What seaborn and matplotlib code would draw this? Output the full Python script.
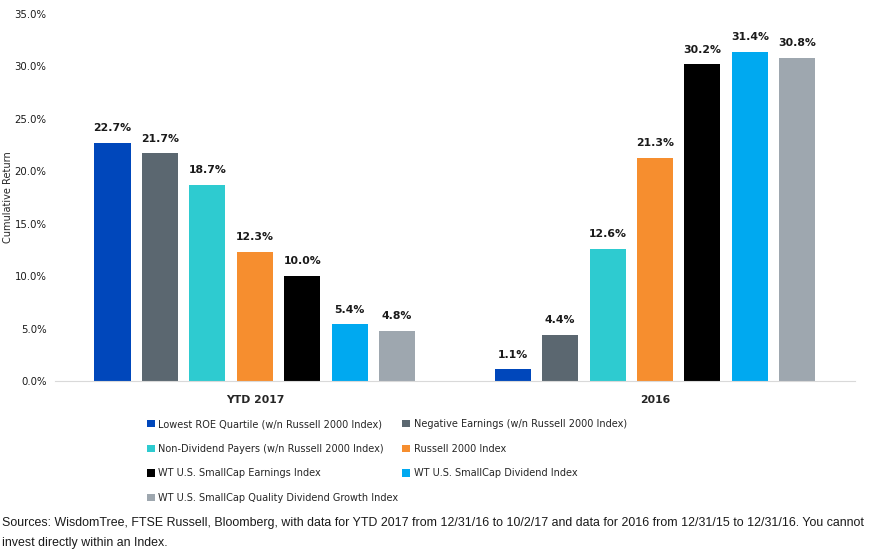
import pandas as pd
import matplotlib
matplotlib.use("Agg")
import matplotlib.pyplot as plt
import seaborn as sns
from matplotlib.ticker import FuncFormatter

# Dados do gráfico
periodos = ["YTD 2017", "2016"]
series = [
    "Lowest ROE Quartile (w/n Russell 2000 Index)",
    "Negative Earnings (w/n Russell 2000 Index)",
    "Non-Dividend Payers (w/n Russell 2000 Index)",
    "Russell 2000 Index",
    "WT U.S. SmallCap Earnings Index",
    "WT U.S. SmallCap Dividend Index",
    "WT U.S. SmallCap Quality Dividend Growth Index",
]
ytd_2017 = [22.7, 21.7, 18.7, 12.3, 10.0, 5.4, 4.8]
ano_2016 = [1.1, 4.4, 12.6, 21.3, 30.2, 31.4, 30.8]
cores = ["#0047BB", "#5B6770", "#2ECBD0", "#F68E2F", "#000000", "#00A9F0", "#9EA7AF"]

fonte = ("Sources: WisdomTree, FTSE Russell, Bloomberg, with data for YTD 2017 from 12/31/16 to 10/2/17 "
         "and data for 2016 from 12/31/15 to 12/31/16. You cannot\ninvest directly within an Index.")


def montar_df():
    linhas = []
    for s, a, b in zip(series, ytd_2017, ano_2016):
        linhas.append({"Periodo": periodos[0], "Serie": s, "Retorno": a})
        linhas.append({"Periodo": periodos[1], "Serie": s, "Retorno": b})
    return pd.DataFrame(linhas)


def main():
    sns.set_style("white")
    plt.rcParams["font.family"] = ["DejaVu Sans"]
    df = montar_df()

    fig = plt.figure(figsize=(8.69, 5.55), dpi=100)
    ax = fig.add_axes([0.063, 0.3135, 0.921, 0.6615])
    sns.barplot(data=df, x="Periodo", y="Retorno", hue="Serie", order=periodos,
                hue_order=series, palette=cores, width=0.83, gap=0.24,
                saturation=1, linewidth=0, ax=ax, legend=True)

    for cont in ax.containers:
        ax.bar_label(cont, fmt="%.1f%%", padding=7, fontsize=7.8, fontweight="bold",
                     color="#1a1a1a")

    ax.set_ylim(0, 35)
    ax.set_xlim(-0.5, 1.5)
    ax.set_yticks([0, 5, 10, 15, 20, 25, 30, 35])
    ax.yaxis.set_major_formatter(FuncFormatter(lambda v, p: f"{v:.1f}%"))
    ax.tick_params(axis="y", labelsize=7.3, length=0, pad=6, labelcolor="#1a1a1a")
    ax.tick_params(axis="x", labelsize=7.8, length=0, pad=10)
    for t in ax.get_xticklabels():
        t.set_fontweight("bold")
    ax.set_xlabel("")
    ax.set_ylabel("Cumulative Return", fontsize=7)
    ax.yaxis.set_label_coords(-0.052, 0.5)
    for lado in ["left", "right", "top"]:
        ax.spines[lado].set_visible(False)
    ax.spines["bottom"].set_color("#D9D9D9")

    # Legenda em duas colunas, ordem por linha
    handles, labels = ax.get_legend_handles_labels()
    ordem = [0, 2, 4, 6, 1, 3, 5]
    ax.legend([handles[i] for i in ordem], [labels[i] for i in ordem], ncol=2,
              loc="upper left", bbox_to_anchor=(0.104, -0.08), frameon=False,
              fontsize=7.0, handlelength=0.8, handleheight=0.8, handletextpad=0.4,
              labelspacing=1.5, columnspacing=0.4)

    fig.text(0.002, 0.011, fonte, fontsize=8.9, family="Liberation Sans",
             color="#1a1a1a", linespacing=1.9, va="bottom")

    fig.savefig("out.png", dpi=100)
    plt.close(fig)


if __name__ == "__main__":
    main()
